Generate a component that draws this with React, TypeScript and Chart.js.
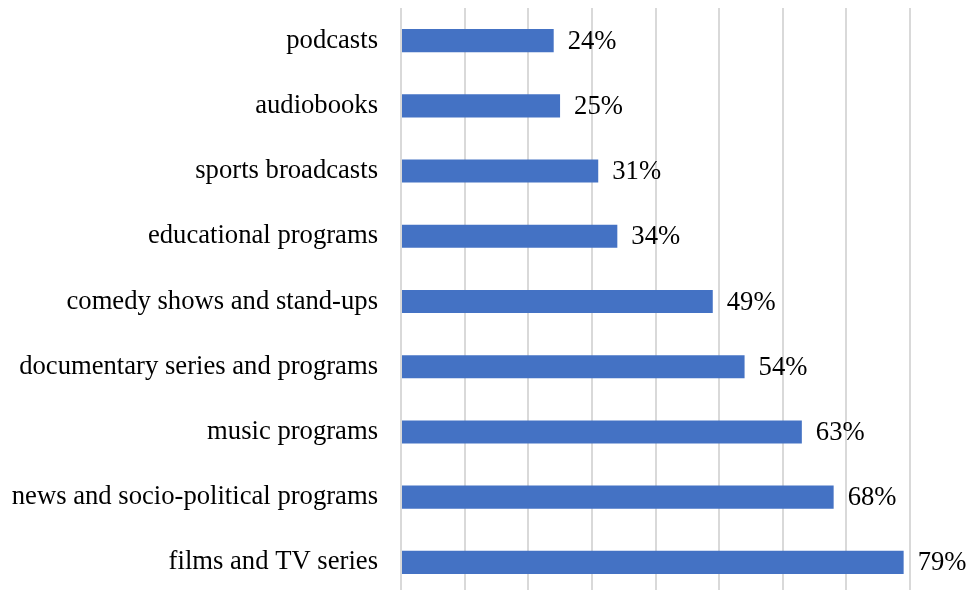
import React, { useEffect, useRef } from "react";
import { Chart, registerables } from "chart.js";

Chart.register(...registerables);

const categories: string[] = [
  "podcasts",
  "audiobooks",
  "sports broadcasts",
  "educational programs",
  "comedy shows and stand-ups",
  "documentary series and programs",
  "music programs",
  "news and socio-political programs",
  "films and TV series",
];

const values: number[] = [24, 25, 31, 34, 49, 54, 63, 68, 79];

const xMin = 0;
const xMax = 80;
const xStep = 10;

const FONT = '"Liberation Serif", "Times New Roman", serif';
const FONT_SIZE = 26.65;

const valueLabelPlugin = {
  id: "valueLabels",
  afterDatasetsDraw(chart: any) {
    const ctx = chart.ctx;
    const meta = chart.getDatasetMeta(0);
    ctx.save();
    ctx.font = `${FONT_SIZE}px ${FONT}`;
    ctx.fillStyle = "#000000";
    ctx.textAlign = "left";
    ctx.textBaseline = "middle";
    meta.data.forEach((bar: any, i: number) => {
      ctx.fillText(`${values[i]}%`, bar.x + 14, bar.y + 1);
    });
    ctx.restore();
  },
};

export default function App() {
  const canvasRef = useRef<HTMLCanvasElement | null>(null);

  useEffect(() => {
    document.body.style.margin = "0";
    document.documentElement.style.overflow = "hidden";
    document.body.style.overflow = "hidden";
    const canvas = canvasRef.current;
    if (!canvas) return;
    const chart = new Chart(canvas, {
      type: "bar",
      data: {
        labels: categories,
        datasets: [
          {
            data: values,
            backgroundColor: "#4472C4",
            borderWidth: 0,
            barPercentage: 0.354,
            categoryPercentage: 1,
          },
        ],
      },
      options: {
        indexAxis: "y",
        animation: false,
        responsive: false,
        maintainAspectRatio: false,
        layout: { padding: { top: 8, right: 58, left: 0, bottom: 0 } },
        plugins: {
          legend: { display: false },
          tooltip: { enabled: false },
        },
        scales: {
          x: {
            min: xMin,
            max: xMax,
            ticks: { display: false, stepSize: xStep },
            grid: { color: "#d9d9d9", lineWidth: 2, drawTicks: false },
            border: { display: false },
            afterFit: (scale: any) => {
              scale.height = 0;
              scale.paddingLeft = 0;
              scale.paddingRight = 0;
            },
          },
          y: {
            grid: { display: false, drawTicks: false },
            border: { display: false },
            ticks: {
              color: "#000000",
              padding: 23,
              font: { family: FONT, size: FONT_SIZE },
            },
            afterFit: (scale: any) => {
              scale.width = 401;
              scale.paddingTop = 0;
              scale.paddingBottom = 0;
            },
          },
        },
      },
      plugins: [valueLabelPlugin],
    });
    return () => chart.destroy();
  }, []);

  return (
    <div style={{ width: 968, height: 595, overflow: "hidden" }}>
      <canvas ref={canvasRef} width={968} height={595} style={{ display: "block" }} />
    </div>
  );
}
